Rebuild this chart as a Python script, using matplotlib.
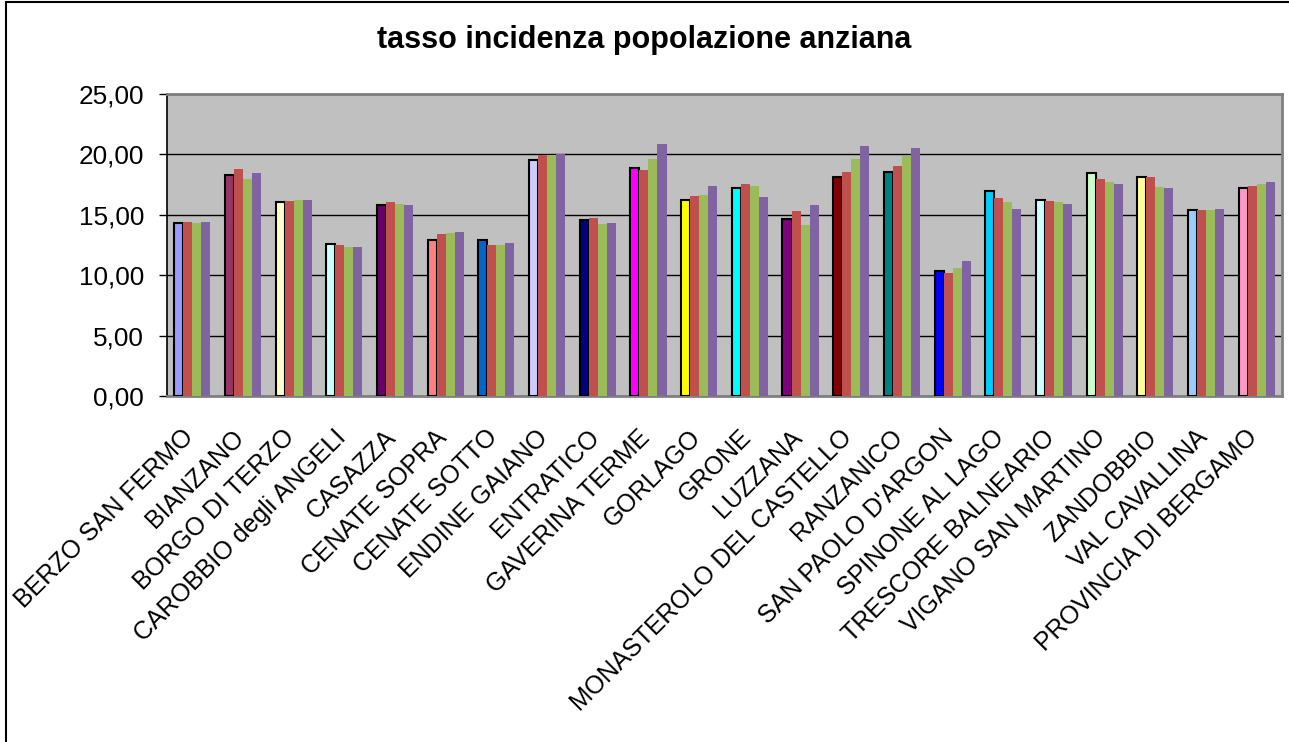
import numpy as np
import matplotlib
matplotlib.use("Agg")
import matplotlib.pyplot as plt
import matplotlib.transforms as mtransforms
from matplotlib.patches import Rectangle

plt.rcParams['font.family'] = ['Liberation Sans', 'DejaVu Sans']

comuni = ["BERZO SAN FERMO", "BIANZANO", "BORGO DI TERZO", "CAROBBIO degli ANGELI",
          "CASAZZA", "CENATE SOPRA", "CENATE SOTTO", "ENDINE GAIANO", "ENTRATICO",
          "GAVERINA TERME", "GORLAGO", "GRONE", "LUZZANA", "MONASTEROLO DEL CASTELLO",
          "RANZANICO", "SAN PAOLO D'ARGON", "SPINONE AL LAGO", "TRESCORE BALNEARIO",
          "VIGANO SAN MARTINO", "ZANDOBBIO", "VAL CAVALLINA", "PROVINCIA DI BERGAMO"]

serie1 = [14.36, 18.33, 16.08, 12.58, 15.78, 12.92, 12.92, 19.53, 14.53, 18.86, 16.19,
          17.25, 14.69, 18.14, 18.53, 10.36, 16.94, 16.19, 18.44, 18.14, 15.39, 17.25]
serie2 = [14.42, 18.83, 16.17, 12.50, 16.08, 13.42, 12.50, 19.97, 14.75, 18.75, 16.58,
          17.58, 15.33, 18.58, 19.08, 10.17, 16.42, 16.17, 18.00, 18.17, 15.42, 17.42]
serie3 = [14.33, 18.00, 16.25, 12.33, 15.92, 13.50, 12.50, 19.97, 14.25, 19.58, 16.67,
          17.42, 14.17, 19.58, 19.83, 10.58, 16.08, 16.08, 17.75, 17.33, 15.42, 17.58]
serie4 = [14.42, 18.50, 16.25, 12.33, 15.83, 13.58, 12.67, 20.00, 14.33, 20.83, 17.42,
          16.50, 15.83, 20.67, 20.50, 11.17, 15.50, 15.92, 17.58, 17.25, 15.50, 17.75]

colori_primi = ["#9999FF", "#993366", "#FFFFCC", "#CCFFFF", "#660066", "#FF8080",
                "#0066CC", "#CCCCFF", "#000080", "#FF00FF", "#FFFF00", "#00FFFF",
                "#800080", "#800000", "#008080", "#0000FF", "#00CCFF", "#CCFFFF",
                "#CCFFCC", "#FFFF99", "#99CCFF", "#FF99CC"]
colori_serie = ["#C0504D", "#9BBB59", "#8064A2"]

yticks = [0, 5, 10, 15, 20, 25]
ytick_labels = ["0,00", "5,00", "10,00", "15,00", "20,00", "25,00"]

fig = plt.figure(figsize=(12.89, 7.42), dpi=100)
ax = fig.add_axes([167 / 1289, 1 - 396 / 742, 1115 / 1289, 302 / 742])
ax.set_facecolor("#C0C0C0")

x = np.arange(len(comuni))
w = 0.178
ax.bar(x - 1.5 * w, serie1, w, color=colori_primi, edgecolor="black", linewidth=1.5, zorder=3)
for i, (vals, c) in enumerate(zip([serie2, serie3, serie4], colori_serie)):
    ax.bar(x + (i - 0.5) * w, vals, w, color=c, zorder=3)

ax.set_xlim(-0.5, len(comuni) - 0.5)
ax.set_ylim(0, 25)
ax.set_yticks(yticks)
ax.set_yticklabels(ytick_labels, fontsize=18.8)
ax.yaxis.grid(True, color="black", linewidth=1.0, zorder=1)
ax.set_axisbelow(True)
ax.tick_params(axis="y", length=6, width=1, pad=10.5)

ax.set_xticks(x)
ax.set_xticklabels(comuni, rotation=45, ha="right", fontsize=18)
ax.tick_params(axis="x", length=0, pad=21)
# shift the rotated labels a bit to the right, like in the original
offset = mtransforms.ScaledTranslation(6 / 100, 0, fig.dpi_scale_trans)
for lab in ax.get_xticklabels():
    lab.set_transform(lab.get_transform() + offset)

for s in ["top", "right", "bottom"]:
    ax.spines[s].set_color("#808080")
    ax.spines[s].set_linewidth(2)
ax.spines["left"].set_color("black")
ax.spines["left"].set_linewidth(1.2)

fig.text(0.5, 1 - 40 / 742, "tasso incidenza popolazione anziana",
         ha="center", va="center", fontsize=22, fontweight="bold")

fig.patches.append(Rectangle((6 / 1289, -0.1), 1.2, 1.1 - 2 / 742, transform=fig.transFigure,
                             fill=False, edgecolor="black", linewidth=1.5))

fig.savefig("out.png", dpi=100)
